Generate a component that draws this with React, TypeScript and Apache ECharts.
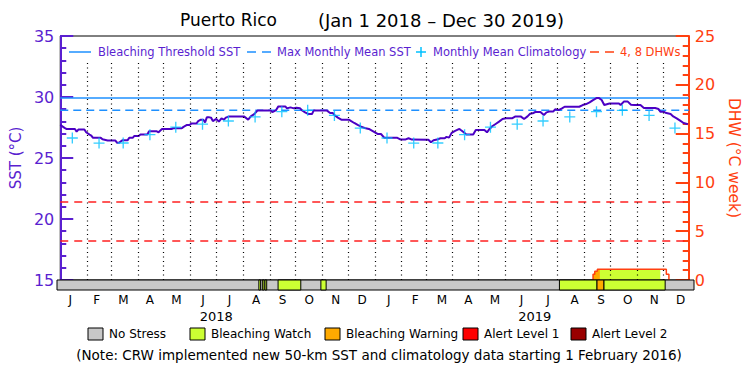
import React, { useEffect, useRef } from "react";
import * as echarts from "echarts";

// ---------------- data ----------------
const RANGE_START = "2018-01-01";
const RANGE_END = "2019-12-31";

const sstDates = [
  "2018-01-01","2018-01-06","2018-01-08","2018-01-18","2018-01-20","2018-01-22","2018-01-29","2018-01-31",
  "2018-02-04","2018-02-06","2018-02-08","2018-02-17","2018-02-19","2018-02-25","2018-03-06","2018-03-08",
  "2018-03-10","2018-03-12","2018-03-14","2018-03-20","2018-03-22","2018-03-26","2018-03-28","2018-04-02",
  "2018-04-04","2018-04-12","2018-04-14","2018-04-23","2018-04-25","2018-04-29","2018-05-10","2018-05-12",
  "2018-05-22","2018-05-24","2018-05-28","2018-05-31","2018-06-02","2018-06-08","2018-06-10","2018-06-13",
  "2018-06-16","2018-06-18","2018-06-20","2018-06-23","2018-06-25","2018-06-27","2018-07-01","2018-07-04",
  "2018-07-07","2018-07-10","2018-07-12","2018-07-16","2018-08-02","2018-08-04","2018-08-07","2018-08-10",
  "2018-08-14","2018-08-18","2018-09-02","2018-09-04","2018-09-08","2018-09-11","2018-09-19","2018-09-21",
  "2018-09-25","2018-09-29","2018-10-02","2018-10-06","2018-10-09","2018-10-12","2018-10-16","2018-10-20",
  "2018-10-22","2018-11-06","2018-11-10","2018-11-13","2018-11-15","2018-11-19","2018-11-23","2018-12-02",
  "2018-12-04","2018-12-08","2018-12-12","2018-12-16","2018-12-20","2018-12-25","2018-12-31",
  "2019-01-04","2019-01-08","2019-01-12","2019-01-27","2019-01-31","2019-02-05","2019-02-09","2019-02-13",
  "2019-03-04","2019-03-07","2019-03-10","2019-03-14","2019-03-18","2019-03-23","2019-03-25","2019-03-28",
  "2019-03-31","2019-04-04","2019-04-09","2019-04-11","2019-04-14","2019-04-17","2019-04-25","2019-04-28",
  "2019-05-08","2019-05-11","2019-05-14","2019-05-17","2019-05-21","2019-05-25","2019-05-29","2019-06-02",
  "2019-06-09","2019-06-13","2019-06-19","2019-06-23","2019-06-27","2019-06-30","2019-07-03","2019-07-06",
  "2019-07-12","2019-07-16","2019-07-19","2019-07-23","2019-07-27","2019-07-29","2019-08-02","2019-08-06",
  "2019-08-09","2019-08-26","2019-08-30","2019-09-03","2019-09-07","2019-09-11","2019-09-15","2019-09-18",
  "2019-09-21","2019-09-24","2019-09-30","2019-10-11","2019-10-13","2019-10-17","2019-10-21","2019-10-25",
  "2019-10-29","2019-11-05","2019-11-09","2019-11-22","2019-11-26","2019-11-28","2019-12-02","2019-12-04",
  "2019-12-10","2019-12-13","2019-12-17","2019-12-21","2019-12-25","2019-12-29","2019-12-30",
];
const sstValues = [
  27.71,27.47,27.38,27.38,27.16,27.33,27.33,27.11,
  26.92,26.84,26.65,26.65,26.53,26.43,26.43,26.24,
  26.24,26.35,26.45,26.45,26.65,26.65,26.81,26.81,
  26.92,26.92,27.19,27.19,27.11,27.38,27.38,27.44,
  27.44,27.55,27.71,27.71,27.82,27.82,28.03,28.14,
  28.14,27.92,28.33,28.33,28.30,28.03,28.20,27.98,
  28.25,28.14,28.31,28.41,28.41,28.31,28.14,28.41,
  28.60,28.90,28.90,28.76,28.90,29.23,29.23,29.07,
  29.15,29.07,29.12,29.07,28.88,28.74,28.60,28.60,
  28.90,28.90,28.69,28.69,28.53,28.31,28.14,28.14,
  28.04,27.87,27.71,27.57,27.46,27.38,27.14,
  26.97,26.97,26.65,26.65,26.51,26.51,26.62,26.51,
  26.49,26.29,26.45,26.51,26.62,26.62,26.73,26.67,
  27.06,27.22,27.38,27.27,27.11,26.92,26.92,27.30,
  27.30,27.11,27.38,27.60,27.79,27.98,28.20,28.25,
  28.25,28.41,28.41,28.20,28.41,28.63,28.66,28.77,
  28.77,28.52,28.74,28.82,28.82,28.99,28.93,29.07,
  29.20,29.20,29.34,29.42,29.56,29.75,29.91,29.91,
  29.75,29.34,29.47,29.47,29.34,29.64,29.64,29.37,
  29.34,29.34,29.10,29.10,29.02,28.80,28.80,28.71,
  28.60,28.41,28.25,28.06,27.87,27.79,27.75,
];

const climYears = ["2018", "2019"];
const climMonths = ["01","02","03","04","05","06","07","08","09","10","11","12"];
const climValues = [26.64, 26.22, 26.23, 26.91, 27.53, 27.77, 28.03, 28.37, 28.80, 28.91, 28.49, 27.45];

const MMM = 28.92;
const THRESHOLD = 29.92;
const dhwLevels = [4, 8];

const dhwDates = ["2019-09-10","2019-09-11","2019-09-13","2019-09-16","2019-12-05","2019-12-08"];
const dhwValues = [0, 0.6, 0.9, 1.1, 0.6, 0];

const stressStarts = ["2018-08-20","2018-08-24","2018-08-27","2018-09-11","2018-10-30","2019-07-30","2019-09-11","2019-09-19"];
const stressEnds   = ["2018-08-22","2018-08-26","2018-08-29","2018-10-07","2018-11-05","2019-09-11","2019-09-19","2019-11-28"];
const stressLevels = [1, 1, 1, 1, 1, 1, 2, 1];

const stressNames = ["No Stress", "Bleaching Watch", "Bleaching Warning", "Alert Level 1", "Alert Level 2"];
const stressColors = ["#c8c8c8", "#ccff33", "#ffaa00", "#ff0000", "#990000"];

const monthKeys = climYears.flatMap((y) => climMonths.map((m) => `${y}-${m}`));
const monthLetters = ["J","F","M","A","M","J","J","A","S","O","N","D"];
const yearLabels = ["2018", "2019"];

const titleLeft = "Puerto Rico";
const titleRight = "(Jan 1 2018 \u2013 Dec 30 2019)";
const noteText = "(Note: CRW implemented new 50-km SST and climatology data starting 1 February 2016)";

// ---------------- helpers ----------------
const ts = (s: string) => {
  const [y, m, d] = s.split("-").map(Number);
  return new Date(y, m - 1, d || 1).getTime();
};

const PURPLE = "#5a1fd0";
const SST_COLOR = "#4c00c4";
const BLUE = "#1e90ff";
const CYAN = "#00c0ff";
const ORANGE = "#ff4010";
const RED = "#ff2020";
const FONT = "DejaVu Sans";
const PLUS = "path://M4.4,0H5.6V4.4H10V5.6H5.6V10H4.4V5.6H0V4.4H4.4Z";

function dhwAt(t: number) {
  let v = 0;
  dhwDates.forEach((d, i) => { if (ts(d) <= t) v = dhwValues[i]; });
  return v;
}
function dhwSlice(s: number, e: number) {
  const pts: number[][] = [[s, dhwAt(s)]];
  dhwDates.forEach((d, i) => { const t = ts(d); if (t > s && t < e) pts.push([t, dhwValues[i]]); });
  pts.push([e, dhwAt(e - 1)]);
  return pts;
}

export default function App() {
  const ref = useRef<HTMLDivElement>(null);
  useEffect(() => {
    if (!ref.current) return;
    const chart = echarts.init(ref.current, undefined, { renderer: "svg" });
    const xMin = ts(RANGE_START);
    const xMax = ts(RANGE_END);

    const monthStarts = monthKeys.slice(1).map((k) => ts(k + "-01"));
    const sstData = sstDates.map((d, i) => [ts(d), sstValues[i]]);
    const climData = climYears.flatMap((y) => climMonths.map((m, i) => [ts(`${y}-${m}-15`), climValues[i]]));
    const dhwData = dhwDates.map((d, i) => [ts(d), dhwValues[i]]);

    const barData: number[][] = [[xMin, xMax, 0]].concat(
      stressStarts.map((s, i) => [ts(s), ts(stressEnds[i]), stressLevels[i]])
    );

    const fillSeries = stressStarts
      .map((s, i) => ({ pts: dhwSlice(ts(s), ts(stressEnds[i])), lvl: stressLevels[i] }))
      .filter((f) => f.pts.some((p) => p[1] > 0))
      .map((f) => ({
        type: "line", xAxisIndex: 0, yAxisIndex: 1, step: "end", data: f.pts, symbol: "none",
        lineStyle: { width: 0 }, areaStyle: { color: stressColors[f.lvl], opacity: 1 }, z: 2, silent: true,
      }));

    const legendFont = `11.5px '${FONT}'`;
    const topLegend: any[] = [
      { type: "line", shape: { x1: 69, y1: 52, x2: 91, y2: 52 }, style: { stroke: BLUE, lineWidth: 1.5 } },
      { type: "text", x: 98, y: 52, style: { text: "Bleaching Threshold SST", fill: PURPLE, font: legendFont, verticalAlign: "middle" } },
      { type: "line", shape: { x1: 247, y1: 52, x2: 271, y2: 52 }, style: { stroke: BLUE, lineWidth: 1.5, lineDash: [9, 6] } },
      { type: "text", x: 277, y: 52, style: { text: "Max Monthly Mean SST", fill: PURPLE, font: legendFont, verticalAlign: "middle" } },
      { type: "line", shape: { x1: 416, y1: 52, x2: 426, y2: 52 }, style: { stroke: CYAN, lineWidth: 1.5 } },
      { type: "line", shape: { x1: 421, y1: 47, x2: 421, y2: 57 }, style: { stroke: CYAN, lineWidth: 1.5 } },
      { type: "text", x: 433, y: 52, style: { text: "Monthly Mean Climatology", fill: PURPLE, font: legendFont, verticalAlign: "middle" } },
      { type: "line", shape: { x1: 590, y1: 52, x2: 614, y2: 52 }, style: { stroke: ORANGE, lineWidth: 1.5, lineDash: [9, 6] } },
      { type: "text", x: 620, y: 52, style: { text: "4, 8 DHWs", fill: ORANGE, font: legendFont, verticalAlign: "middle" } },
    ];

    const boxX = [88, 190, 325, 463, 571];
    const bottomLegend: any[] = stressNames.flatMap((n, i) => [
      { type: "rect", shape: { x: boxX[i], y: 328, width: 15, height: 12 }, style: { fill: stressColors[i], stroke: "#000", lineWidth: 1 } },
      { type: "text", x: boxX[i] + 21, y: 334, style: { text: n, fill: "#000", font: `12px '${FONT}'`, verticalAlign: "middle" } },
    ]);

    const option: any = {
      animation: false,
      textStyle: { fontFamily: FONT },
      grid: [
        { left: 57, right: 56, top: 36, height: 244, show: true, borderColor: "#000", borderWidth: 1, backgroundColor: "transparent" },
        { left: 57, right: 56, top: 280, height: 10 },
      ],
      xAxis: [
        { type: "time", gridIndex: 0, min: xMin, max: xMax, show: false },
        { type: "time", gridIndex: 1, min: xMin, max: xMax, show: false },
        {
          type: "category", gridIndex: 1, data: monthKeys, position: "bottom", boundaryGap: true,
          axisLine: { show: false }, axisTick: { show: false }, splitLine: { show: false },
          axisLabel: { interval: 0, margin: 4, color: "#000", fontSize: 12, formatter: (v: string) => monthLetters[Number(v.slice(5)) - 1] },
        },
        {
          type: "category", gridIndex: 1, data: yearLabels, position: "bottom", offset: 16, boundaryGap: true,
          axisLine: { show: false }, axisTick: { show: false }, splitLine: { show: false },
          axisLabel: { interval: 0, margin: 4, color: "#000", fontSize: 13 },
        },
      ],
      yAxis: [
        {
          type: "value", gridIndex: 0, position: "left", min: 15, max: 35, interval: 5,
          axisLine: { show: true, lineStyle: { color: PURPLE, width: 2 } },
          axisTick: { show: true, inside: true, length: 13, lineStyle: { color: PURPLE, width: 2 } },
          minorTick: { show: true, splitNumber: 5, length: 6, lineStyle: { color: PURPLE, width: 2 } },
          splitLine: { show: false }, minorSplitLine: { show: false },
          axisLabel: { color: PURPLE, fontSize: 16, margin: 6 },
          name: "SST (\u00b0C)", nameLocation: "middle", nameGap: 34, nameRotate: 90,
          nameTextStyle: { color: PURPLE, fontSize: 15 },
        },
        {
          type: "value", gridIndex: 0, position: "right", min: 0, max: 25, interval: 5,
          axisLine: { show: true, lineStyle: { color: ORANGE, width: 2 } },
          axisTick: { show: true, inside: true, length: 13, lineStyle: { color: ORANGE, width: 2 } },
          minorTick: { show: true, splitNumber: 5, length: 6, lineStyle: { color: ORANGE, width: 2 } },
          splitLine: { show: false }, minorSplitLine: { show: false },
          axisLabel: { color: ORANGE, fontSize: 16, margin: 6 },
          name: "DHW (\u00b0C week)", nameLocation: "middle", nameGap: 36, nameRotate: -90,
          nameTextStyle: { color: ORANGE, fontSize: 15.5 },
        },
        { type: "value", gridIndex: 1, min: 0, max: 1, show: false },
      ],
      graphic: [
        { type: "text", x: 180, y: 20, style: { text: titleLeft, fill: "#000", font: `17px '${FONT}'`, verticalAlign: "middle" } },
        { type: "text", x: 318, y: 20, style: { text: titleRight, fill: "#000", font: `18px '${FONT}'`, verticalAlign: "middle" } },
        ...topLegend,
        ...bottomLegend,
        { type: "text", x: 379, y: 355, style: { text: noteText, fill: "#000", font: `13.5px '${FONT}'`, align: "center", verticalAlign: "middle" } },
      ],
      series: [
        ...fillSeries,
        {
          name: "4, 8 DHWs", type: "line", xAxisIndex: 0, yAxisIndex: 1, step: "end", data: dhwData, symbol: "none",
          lineStyle: { color: ORANGE, width: 1.5 }, z: 3, silent: true,
          markLine: {
            silent: true, symbol: "none", label: { show: false },
            lineStyle: { color: RED, type: [8, 6], width: 1.5 },
            data: dhwLevels.map((v) => ({ yAxis: v })),
          },
        },
        {
          name: "Bleaching Threshold SST", type: "line", xAxisIndex: 0, yAxisIndex: 0,
          data: [[xMin, THRESHOLD], [xMax, THRESHOLD]], symbol: "none",
          lineStyle: { color: BLUE, width: 1.5 }, z: 3, silent: true,
        },
        {
          name: "Max Monthly Mean SST", type: "line", xAxisIndex: 0, yAxisIndex: 0,
          data: [[xMin, MMM], [xMax, MMM]], symbol: "none",
          lineStyle: { color: BLUE, width: 1.5, type: [8, 5] }, z: 3, silent: true,
        },
        {
          name: "SST", type: "line", xAxisIndex: 0, yAxisIndex: 0, data: sstData, symbol: "none",
          lineStyle: { color: SST_COLOR, width: 2 }, z: 4, silent: true,
          markLine: {
            silent: true, symbol: "none", label: { show: false },
            lineStyle: { color: "#000", type: [1, 3.5], width: 1.2 },
            data: monthStarts.map((t) => [{ coord: [t, 15] }, { coord: [t, 33] }]),
          },
        },
        {
          name: "Monthly Mean Climatology", type: "scatter", xAxisIndex: 0, yAxisIndex: 0, data: climData,
          symbol: PLUS, symbolSize: 11, itemStyle: { color: CYAN }, z: 5, silent: true,
        },
        {
          name: "Stress", type: "custom", xAxisIndex: 1, yAxisIndex: 2, data: barData, z: 6, silent: true,
          encode: { x: [0, 1], y: 2 },
          renderItem: (params: any, api: any) => {
            const s = api.coord([api.value(0), 0]);
            const e = api.coord([api.value(1), 1]);
            return {
              type: "rect",
              shape: { x: s[0], y: e[1], width: e[0] - s[0], height: s[1] - e[1] },
              style: { fill: stressColors[api.value(2)], stroke: "#000", lineWidth: 1 },
            };
          },
        },
      ],
    };
    chart.setOption(option);
    return () => chart.dispose();
  }, []);
  return <div ref={ref} style={{ position: "absolute", left: 0, top: 0, width: 750, height: 375 }} />;
}
